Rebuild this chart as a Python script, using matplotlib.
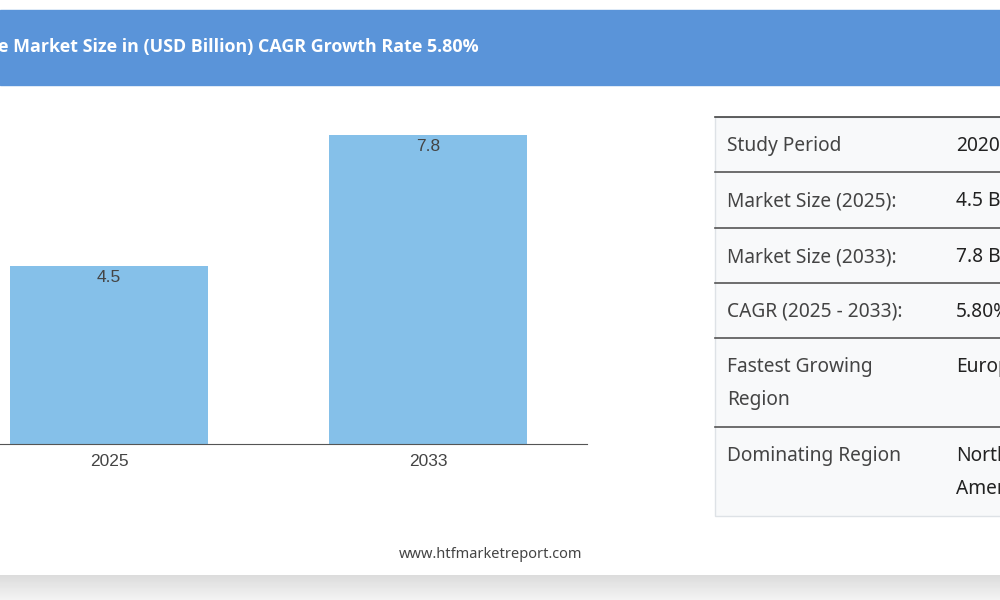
import matplotlib.pyplot as plt
from matplotlib.patches import Rectangle
from matplotlib.colors import LinearSegmentedColormap
import numpy as np

# data
years = ['2025', '2033']
market_size = [4.5, 7.8]
title_text = 'e Market Size in (USD Billion) CAGR Growth Rate 5.80%'
row_labels = ['Study Period', 'Market Size (2025):', 'Market Size (2033):',
              'CAGR (2025 - 2033):', 'Fastest Growing\nRegion', 'Dominating Region']
row_values = ['2020-2033', '4.5 Billion', '7.8 Billion', '5.80%', 'Europe', 'North\nAmerica']
row_lines = [117, 172, 228, 283, 338, 427, 516]

fig = plt.figure(figsize=(10, 6), dpi=100)

# page layer in pixel coords
page = fig.add_axes([0, 0, 1, 1])
page.axis('off')

# header band
page.add_patch(Rectangle((0, 10), 1000, 75, color='#5a94d9', zorder=1))
page.text(-2, 47, title_text, color='white', fontsize=12.9, fontweight='bold',
          family='Open Sans', va='center', ha='left', zorder=2)

# bottom grey shadow (dark at top, light at bottom)
grad = np.linspace(0, 1, 30).reshape(-1, 1)
shade = LinearSegmentedColormap.from_list('g', ['#f4f4f4', '#dcdcdc'])
page.imshow(grad, extent=(0, 1000, 600, 575), cmap=shade, origin='lower',
            aspect='auto', zorder=1)
page.set_xlim(0, 1000)
page.set_ylim(600, 0)

page.text(491, 555, 'www.htfmarketreport.com', color='#444444', fontsize=10.5,
          family='Noto Sans', ha='center', va='center')

# table
page.add_patch(Rectangle((715, row_lines[0]), 300, row_lines[-1] - row_lines[0],
                         facecolor='#f8f9fa', edgecolor='#dee2e6', lw=1, zorder=1))
for i, y in enumerate(row_lines[:-1]):
    page.plot([715, 1000], [y, y], color='#444444' if i == 0 else '#555555', lw=1.2, zorder=2)
for i in range(len(row_labels)):
    top = row_lines[i]
    for j, line in enumerate(row_labels[i].split('\n')):
        page.text(727, top + 29 + 33 * j, line, color='#444444', fontsize=13.8,
                  family='Noto Sans', va='center', ha='left', zorder=3)
    for j, line in enumerate(row_values[i].split('\n')):
        page.text(956, top + 29 + 33 * j, line, color='#222222', fontsize=13.8,
                  family='Noto Sans', va='center', ha='left', zorder=3)

# bar chart
ax = fig.add_axes([0, 156 / 600, 587 / 1000, 356 / 600])
ax.patch.set_alpha(0)
x = np.arange(len(years))
ax.bar(x, market_size, width=0.62, color='#85c0e9', zorder=2)
for xi, v in zip(x, market_size):
    ax.text(xi, v - 0.28, str(v), ha='center', va='center', color='#444444',
            fontsize=12.5, family='Liberation Sans')
ax.set_xlim(-0.342, 1.498)
ax.set_ylim(0, 9)
ax.set_xticks(x)
ax.set_xticklabels(years, fontsize=12.5, family='Liberation Sans', color='#444444')
ax.tick_params(axis='x', length=0, pad=7)
ax.set_yticks([])
for s in ['top', 'right', 'left']:
    ax.spines[s].set_visible(False)
ax.spines['bottom'].set_color('#555555')

fig.savefig('out.png', dpi=100)
